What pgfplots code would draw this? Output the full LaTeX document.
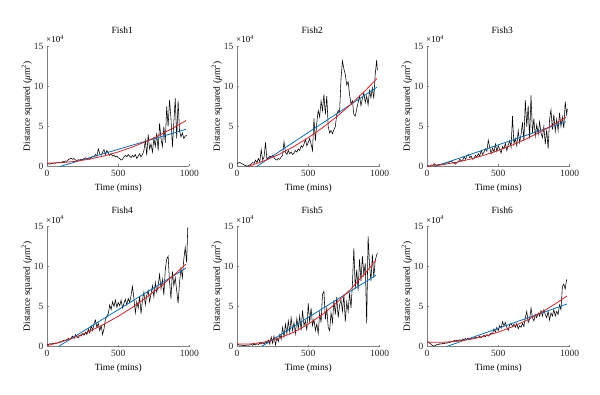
\documentclass[border=0pt]{standalone}
\usepackage{fontspec}
\setmainfont{Liberation Serif}
\usepackage{pgfplots}
\pgfplotsset{compat=1.18}
\definecolor{fitblue}{RGB}{0,114,189}
\definecolor{fitred}{RGB}{226,30,36}
\definecolor{axgray}{RGB}{128,128,128}
\pgfplotsset{
  fishax/.style={
    width=142.5pt, height=120pt, scale only axis,
    xmin=0, xmax=1000, ymin=0, ymax=15,
    axis x line*=bottom, axis y line*=left,
    axis line style={-, axgray, line width=0.5pt},
    xtick={0,500,1000}, ytick={0,5,10,15},
    tick align=inside, major tick length=2pt,
    tick style={axgray, line width=0.5pt},
    /pgf/number format/assume math mode=true,
    /pgf/number format/1000 sep={},
    font=\fontsize{9.5}{11}\selectfont,
    tick label style={font=\fontsize{9.5}{11}\selectfont, text=black!85},
    xlabel={Time (mins)},
    ylabel={Distance squared (\textit{μ}m\textsuperscript{2})},
    xlabel style={at={(axis description cs:0.5,-0.185)}, anchor=center},
    ylabel style={at={(axis description cs:-0.142,0.5)}, anchor=center},
    title style={at={(axis description cs:0.528,1.085)}, anchor=center},
    clip mode=individual,
  },
  blk/.style={black, line width=0.55pt},
  fb/.style={fitblue, line width=0.8pt},
  fr/.style={fitred, line width=0.8pt},
}
\newcommand{\scalelab}{\node[anchor=base west, inner sep=0pt, font=\fontsize{9}{10}\selectfont] at (rel axis cs:0,1) [yshift=3.5pt,xshift=-1pt] {×10\textsuperscript{4}};}
\begin{document}
\begin{tikzpicture}
\path[use as bounding box] (0,0) rectangle (600pt,394pt);
% ---------------- Fish1
\begin{axis}[fishax, at={(47pt,227.5pt)}, anchor=south west, title={Fish1}]
\addplot[blk] coordinates {(0,0.30)(10,0.35)(20,0.28)(30,0.40)(40,0.35)(50,0.45)(60,0.42)(70,0.50)(80,0.48)(90,0.55)(100,0.50)(110,0.62)(120,0.58)(130,0.70)(140,0.65)(150,0.85)(160,0.95)(170,1.05)(180,0.90)(190,1.00)(200,0.80)(210,0.75)(220,0.85)(230,0.80)(240,0.90)(250,0.85)(260,1.00)(270,1.10)(280,0.95)(290,1.05)(300,0.90)(310,1.10)(320,1.30)(330,1.20)(340,1.50)(350,1.30)(360,2.20)(370,1.60)(380,1.40)(390,1.80)(400,2.10)(410,1.50)(420,2.00)(430,1.70)(440,1.40)(450,1.60)(460,1.30)(470,1.40)(480,1.20)(490,1.30)(500,1.10)(510,1.00)(520,0.80)(530,0.90)(540,1.20)(550,1.40)(560,1.20)(570,1.50)(580,1.30)(590,1.10)(600,1.40)(610,1.20)(620,1.50)(630,1.00)(640,1.30)(650,1.60)(660,1.20)(670,1.50)(680,2.00)(690,3.30)(700,1.40)(710,4.00)(720,2.20)(730,2.80)(740,1.80)(750,3.50)(760,2.50)(770,4.20)(780,2.00)(790,5.40)(800,3.50)(810,2.50)(820,5.00)(830,3.00)(840,7.50)(850,5.00)(860,8.30)(870,6.00)(880,2.40)(890,5.50)(900,8.50)(910,3.50)(920,8.20)(930,4.50)(940,3.70)(950,4.20)(960,3.50)(970,3.80)(980,3.90)};
\addplot[fb] coordinates {(91,0)(975,4.64)};
\addplot[fr] coordinates {(0,0.42)(100,0.476)(200,0.644)(300,0.924)(400,1.316)(500,1.82)(600,2.436)(700,3.164)(800,4.004)(900,4.956)(975,5.743)};
\scalelab
\end{axis}
% ---------------- Fish2
\begin{axis}[fishax, at={(237pt,227.5pt)}, anchor=south west, title={Fish2}]
\addplot[blk] coordinates {(0,0.35)(10,0.45)(20,0.50)(30,0.40)(40,0.30)(50,0.20)(60,0.10)(70,0.05)(80,0.10)(90,0.20)(100,0.30)(110,0.50)(120,0.40)(130,0.80)(140,0.50)(150,1.00)(160,0.60)(170,2.10)(180,0.80)(190,1.20)(200,3.00)(210,0.90)(220,1.10)(230,1.30)(240,1.20)(250,1.40)(260,1.10)(270,0.90)(280,0.80)(290,1.00)(300,0.90)(310,1.20)(320,1.40)(330,3.10)(340,1.80)(350,1.50)(360,2.00)(370,1.60)(380,1.80)(390,1.50)(400,1.70)(410,2.00)(420,1.80)(430,2.20)(440,2.00)(450,2.60)(460,2.40)(470,2.80)(480,3.40)(490,2.60)(500,3.00)(510,3.50)(520,2.80)(530,2.00)(540,6.00)(550,3.20)(560,5.50)(570,7.00)(580,6.20)(590,8.20)(600,7.00)(610,9.00)(620,6.50)(630,8.80)(640,5.00)(650,4.20)(660,4.50)(670,4.10)(680,4.60)(690,5.00)(700,6.50)(710,7.00)(720,6.80)(730,11.0)(740,13.2)(750,12.2)(760,11.5)(770,10.2)(780,10.6)(790,9.0)(800,7.8)(810,8.2)(820,6.5)(830,6.3)(840,7.2)(850,8.0)(860,8.8)(870,7.6)(880,8.5)(890,9.2)(900,8.0)(910,8.8)(920,7.7)(930,9.5)(940,8.6)(950,9.8)(960,8.5)(970,11.5)(980,13.3)(985,12.0)};
\addplot[fb] coordinates {(138,0)(981,9.9)};
\addplot[fr] coordinates {(75,0)(100,0.136)(200,0.773)(300,1.563)(400,2.504)(500,3.596)(600,4.840)(700,6.236)(800,7.783)(900,9.483)(981,10.969)};
\scalelab
\end{axis}
% ---------------- Fish3
\begin{axis}[fishax, at={(427pt,227.5pt)}, anchor=south west, title={Fish3}]
\addplot[blk] coordinates {(0,0.05)(10,0.10)(20,0.05)(30,0.20)(40,0.15)(50,0.35)(60,0.20)(70,0.15)(80,0.25)(90,0.20)(100,0.30)(110,0.35)(120,0.25)(130,0.40)(140,0.50)(150,0.40)(160,0.60)(170,0.70)(180,0.50)(190,0.40)(200,0.30)(210,0.50)(220,0.60)(230,0.90)(240,0.70)(250,0.80)(260,1.20)(270,0.90)(280,1.30)(290,1.50)(300,1.10)(310,1.30)(320,0.90)(330,1.00)(340,1.40)(350,1.20)(360,1.60)(370,1.30)(380,2.00)(390,1.50)(400,1.80)(410,2.20)(420,1.90)(430,3.30)(440,2.40)(450,1.60)(460,2.30)(470,1.80)(480,2.80)(490,1.90)(500,2.60)(510,2.10)(520,1.70)(530,2.50)(540,2.20)(550,2.90)(560,2.00)(570,2.70)(580,3.20)(590,2.40)(600,6.30)(610,2.80)(620,3.50)(630,2.60)(640,4.50)(650,3.00)(660,4.00)(670,5.50)(680,3.20)(690,8.30)(700,5.00)(710,7.60)(720,3.50)(730,8.90)(740,4.20)(750,6.00)(760,3.80)(770,5.20)(780,4.00)(790,5.60)(800,4.20)(810,3.60)(820,5.00)(830,2.80)(840,4.60)(850,2.20)(860,5.80)(870,7.10)(880,4.60)(890,6.50)(900,4.40)(910,5.90)(920,4.50)(930,6.70)(940,5.00)(950,6.20)(960,4.80)(970,8.10)(980,6.50)(985,7.20)};
\addplot[fb] coordinates {(56,0)(975,5.6)};
\addplot[fr] coordinates {(0,0)(100,0.205)(200,0.507)(300,0.907)(400,1.405)(500,2.0)(600,2.693)(700,3.483)(800,4.371)(900,5.357)(975,6.16)};
\scalelab
\end{axis}
% ---------------- Fish4
\begin{axis}[fishax, at={(47pt,47.5pt)}, anchor=south west, title={Fish4}]
\addplot[blk] coordinates {(0,0.30)(10,0.25)(20,0.35)(30,0.30)(40,0.40)(50,0.35)(60,0.45)(70,0.40)(80,0.50)(90,0.60)(100,0.55)(110,0.70)(120,0.80)(130,0.75)(140,0.90)(150,1.00)(160,0.85)(170,1.10)(180,1.30)(190,1.00)(200,1.50)(210,1.20)(220,1.10)(230,1.40)(240,1.30)(250,1.60)(260,1.40)(270,1.80)(280,1.50)(290,2.20)(300,1.70)(310,2.60)(320,2.00)(330,2.90)(340,3.30)(350,2.40)(360,2.90)(370,2.00)(380,2.60)(390,1.50)(400,2.20)(410,3.40)(420,3.80)(430,4.10)(440,5.20)(450,4.60)(460,5.60)(470,5.00)(480,5.80)(490,4.90)(500,5.50)(510,5.10)(520,5.80)(530,4.80)(540,5.40)(550,5.90)(560,5.20)(570,6.00)(580,5.50)(590,6.40)(600,7.50)(610,6.00)(620,4.20)(630,5.60)(640,4.80)(650,6.30)(660,4.10)(670,5.80)(680,6.80)(690,5.20)(700,6.40)(710,7.00)(720,5.60)(730,6.60)(740,7.60)(750,6.20)(760,8.00)(770,6.80)(780,7.60)(790,9.00)(800,7.20)(810,8.40)(820,6.40)(830,9.60)(840,10.9)(850,11.3)(860,8.00)(870,6.00)(880,9.40)(890,7.60)(900,8.60)(910,7.00)(920,5.40)(930,8.00)(940,9.80)(950,8.60)(960,10.9)(970,12.4)(980,10.5)(988,14.9)};
\addplot[fb] coordinates {(80,0)(975,9.8)};
\addplot[fr] coordinates {(0,0.1)(100,0.573)(200,1.177)(300,1.912)(400,2.778)(500,3.775)(600,4.902)(700,6.162)(800,7.551)(900,9.073)(975,10.299)};
\scalelab
\end{axis}
% ---------------- Fish5
\begin{axis}[fishax, at={(237pt,47.5pt)}, anchor=south west, title={Fish5}]
\addplot[blk] coordinates {(0,0.20)(10,0.25)(20,0.15)(30,0.20)(40,0.10)(50,0.15)(60,0.10)(70,0.20)(80,0.15)(90,0.20)(100,0.25)(110,0.15)(120,0.30)(130,0.20)(140,0.35)(150,0.25)(160,0.40)(170,0.30)(180,0.50)(190,0.30)(200,0.60)(210,0.40)(220,0.80)(230,0.30)(240,1.20)(250,0.40)(260,1.30)(270,0.20)(280,1.10)(290,0.60)(300,1.50)(310,0.90)(320,2.40)(330,1.20)(340,2.80)(350,1.60)(360,3.20)(370,1.80)(380,3.60)(390,2.00)(400,3.00)(410,1.60)(420,3.50)(430,2.20)(440,3.80)(450,2.00)(460,4.50)(470,2.60)(480,3.20)(490,2.00)(500,5.40)(510,3.00)(520,4.80)(530,2.60)(540,3.40)(550,2.00)(560,2.80)(570,1.60)(580,4.20)(590,3.00)(600,6.50)(610,6.90)(620,3.40)(630,4.80)(640,2.40)(650,2.00)(660,4.20)(670,3.00)(680,5.80)(690,4.00)(700,6.20)(710,3.60)(720,5.20)(730,5.80)(740,4.40)(750,6.50)(760,3.10)(770,5.60)(780,4.40)(790,6.70)(800,4.80)(810,7.80)(820,12.3)(830,7.20)(840,9.60)(850,7.00)(860,10.9)(870,8.20)(880,11.3)(890,9.00)(900,10.4)(910,2.90)(920,13.8)(930,10.2)(940,8.20)(950,11.5)(960,8.60)(970,10.8)(985,11.7)};
\addplot[fb] coordinates {(173,0)(975,8.9)};
\addplot[fr] coordinates {(0,0.331)(50,0.3)(100,0.331)(200,0.576)(300,1.067)(400,1.803)(500,2.785)(600,4.012)(700,5.484)(800,7.202)(900,9.165)(975,10.80)};
\scalelab
\end{axis}
% ---------------- Fish6
\begin{axis}[fishax, at={(427pt,47.5pt)}, anchor=south west, title={Fish6}]
\addplot[blk] coordinates {(0,0.55)(10,0.50)(20,0.40)(30,0.25)(40,0.10)(50,0.05)(60,0.15)(70,0.25)(80,0.20)(90,0.35)(100,0.30)(110,0.40)(120,0.35)(130,0.45)(140,0.40)(150,0.55)(160,0.50)(170,0.65)(180,0.60)(190,0.75)(200,0.70)(210,0.80)(220,0.70)(230,0.85)(240,0.75)(250,0.95)(260,0.85)(270,1.00)(280,0.90)(290,1.05)(300,1.00)(310,0.95)(320,1.10)(330,1.00)(340,1.20)(350,1.05)(360,1.15)(370,1.30)(380,1.10)(390,1.25)(400,1.40)(410,1.20)(420,1.50)(430,1.30)(440,1.45)(450,1.70)(460,1.60)(470,2.20)(480,1.80)(490,2.40)(500,2.00)(510,2.60)(520,2.30)(530,3.10)(540,2.60)(550,3.00)(560,2.40)(570,2.00)(580,2.70)(590,2.90)(600,2.50)(610,2.80)(620,2.40)(630,2.90)(640,2.20)(650,2.60)(660,2.40)(670,2.90)(680,2.50)(690,3.60)(700,4.40)(710,3.00)(720,3.40)(730,4.80)(740,3.60)(750,3.20)(760,4.00)(770,3.60)(780,4.20)(790,3.80)(800,4.50)(810,3.80)(820,4.60)(830,4.00)(840,3.60)(850,4.40)(860,3.30)(870,4.20)(880,3.80)(890,4.60)(900,3.80)(910,4.40)(920,4.00)(930,5.20)(940,4.60)(950,7.50)(960,7.80)(970,7.20)(980,8.40)};
\addplot[fb] coordinates {(138,0)(981,5.3)};
\addplot[fr] coordinates {(0,0.55)(100,0.52)(200,0.63)(300,0.88)(400,1.27)(500,1.80)(600,2.47)(700,3.28)(800,4.23)(900,5.32)(981,6.305)};
\scalelab
\end{axis}
\end{tikzpicture}
\end{document}
